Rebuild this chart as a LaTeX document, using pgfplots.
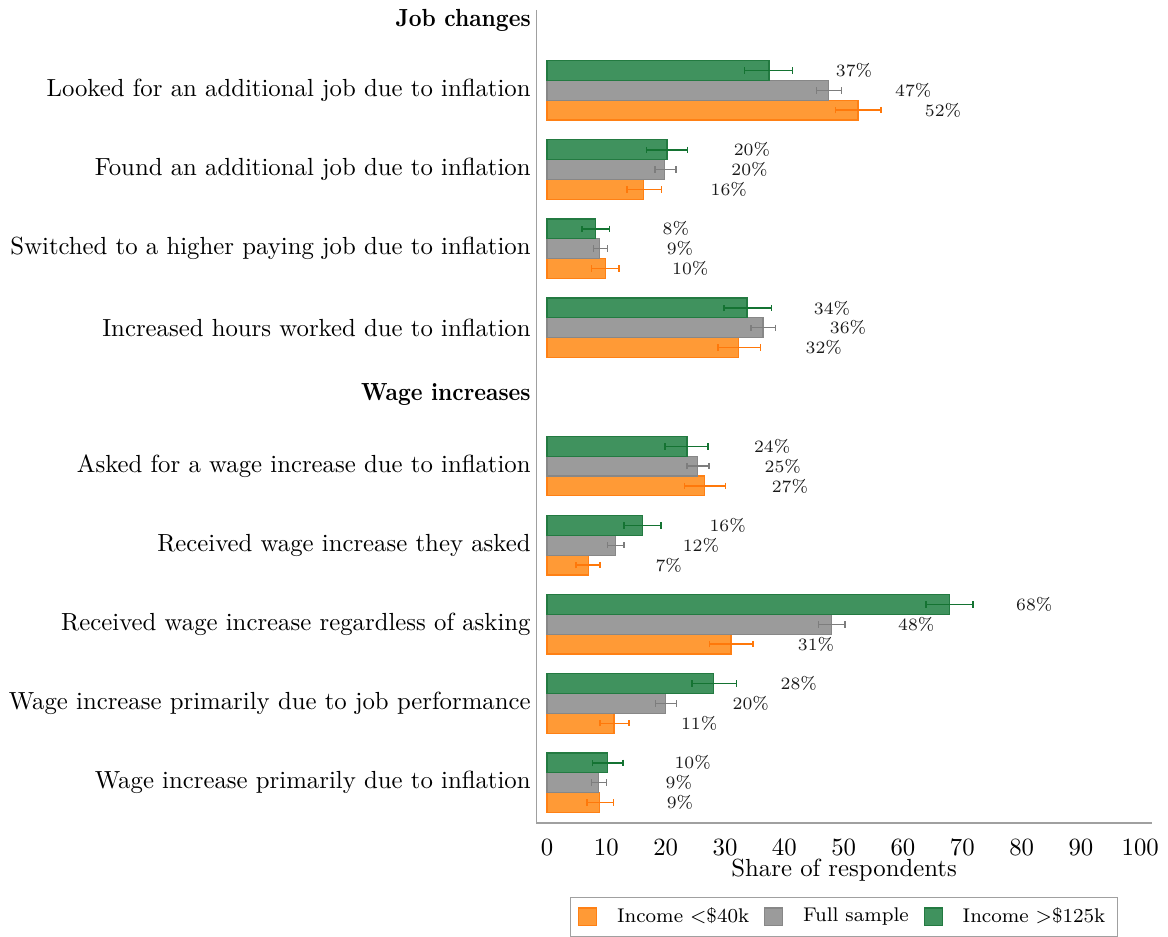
\documentclass[border=0pt]{standalone}
\usepackage{pgfplots}
\usepackage{pgfplotstable}
\pgfplotsset{compat=1.18}
\definecolor{ofill}{RGB}{255,154,54}
\definecolor{oedge}{RGB}{255,128,20}
\definecolor{oerr}{RGB}{255,120,10}
\definecolor{gfill}{RGB}{155,155,155}
\definecolor{gedge}{RGB}{135,135,135}
\definecolor{gerr}{RGB}{125,125,125}
\definecolor{nfill}{RGB}{64,146,94}
\definecolor{nedge}{RGB}{35,122,65}
\definecolor{nerr}{RGB}{20,115,50}
\definecolor{spine}{RGB}{160,160,160}

% y = row position, x = share, ep/em = upper/lower CI half-widths, lbl = printed label
\pgfplotstableread{
y     x     ep   em   lbl
1.25  52.4  3.9  3.8  52
2.25  16.3  3.0  2.8  16
3.25  9.8   2.3  2.3  10
4.25  32.3  3.7  3.5  32
6.0   26.6  3.5  3.4  27
7.0   7.0   1.9  2.1  7
8.0   31.0  3.7  3.6  31
9.0   11.3  2.5  2.4  11
10.0  8.9   2.3  2.2  9
}\lowinc
\pgfplotstableread{
y     x     ep   em   lbl
1     47.4  2.2  2.0  47
2     19.8  1.9  1.6  20
3     8.9   1.3  1.1  9
4     36.4  2.1  2.0  36
5.75  25.4  1.9  1.8  25
6.75  11.6  1.4  1.4  12
7.75  47.9  2.3  2.1  48
8.75  20.0  1.8  1.7  20
9.75  8.7   1.3  1.2  9
}\fullsample
\pgfplotstableread{
y     x     ep   em   lbl
0.75  37.4  4.0  4.1  37
1.75  20.2  3.5  3.4  20
2.75  8.2   2.3  2.3  8
3.75  33.7  4.1  3.9  34
5.5   23.6  3.5  3.7  24
6.5   16.1  3.1  3.1  16
7.5   67.8  4.0  3.9  68
8.5   28.1  3.8  3.7  28
9.5   10.2  2.6  2.5  10
}\highinc

\newcommand{\hdr}[1]{\scalebox{0.9}[1]{\textbf{#1}}}

\begin{document}
\begin{tikzpicture}
\path (-216.5pt,-45.2pt) rectangle (255.2pt,332.4pt);
\begin{axis}[
  at={(0,0)}, anchor=south west,
  scale only axis, width=248.8pt, height=328.4pt,
  xbar, bar shift=0pt, bar width=0.25,
  xmin=-1.85, xmax=102, ymin=-0.018, ymax=10.262, y dir=reverse,
  axis line style={draw=none},
  major tick length=0pt,
  xtick={0,10,...,100},
  xticklabel style={yshift=-3pt},
  ytick={0.12,1,2,3,4,4.85,5.75,6.75,7.75,8.75,9.75},
  yticklabels={\hdr{Job changes},
    Looked for an additional job due to inflation,
    Found an additional job due to inflation,
    Switched to a higher paying job due to inflation,
    Increased hours worked due to inflation,
    \hdr{Wage increases},
    Asked for a wage increase due to inflation,
    Received wage increase they asked,
    Received wage increase regardless of asking,
    Wage increase primarily due to job performance,
    Wage increase primarily due to inflation},
  yticklabel style={inner sep=0pt, xshift=-2pt},
  xlabel={Share of respondents},
  xlabel style={yshift=5.3pt},
  legend columns=3,
  legend style={at={(0.5,0)}, anchor=north, yshift=-29.9pt, draw=spine,
    font=\fontsize{8}{9.6}\selectfont,
    /tikz/every odd column/.append style={column sep=6pt},
    /tikz/every even column/.append style={column sep=4pt}},
  legend image code/.code={\draw[#1] (0pt,-3.6pt) rectangle (7.3pt,3.6pt);},
  point meta=explicit,
  nodes near coords={\pgfmathprintnumber[fixed,precision=0]{\pgfplotspointmeta}\%},
  nodes near coords style={anchor=west, inner sep=0pt, xshift=26.8pt,
    font=\fontsize{7.1}{8}\selectfont, text=black!90},
]
\addplot[xbar, fill=ofill, draw=oedge, line width=0.5pt,
  error bars/.cd, x dir=both, x explicit, error mark=|,
  error bar style={color=oerr, line width=0.6pt},
  error mark options={color=oerr, mark size=1.3pt, line width=0.6pt}]
  table[x=x, y=y, x error plus=ep, x error minus=em, meta=lbl] {\lowinc};
\addlegendentry{Income $<$\$40k}
\addplot[xbar, fill=gfill, draw=gedge, line width=0.5pt,
  error bars/.cd, x dir=both, x explicit, error mark=|,
  error bar style={color=gerr, line width=0.6pt},
  error mark options={color=gerr, mark size=1.3pt, line width=0.6pt}]
  table[x=x, y=y, x error plus=ep, x error minus=em, meta=lbl] {\fullsample};
\addlegendentry{Full sample}
\addplot[xbar, fill=nfill, draw=nedge, line width=0.5pt,
  error bars/.cd, x dir=both, x explicit, error mark=|,
  error bar style={color=nerr, line width=0.6pt},
  error mark options={color=nerr, mark size=1.3pt, line width=0.6pt}]
  table[x=x, y=y, x error plus=ep, x error minus=em, meta=lbl] {\highinc};
\addlegendentry{Income $>$\$125k}
\draw[spine, line width=0.6pt] (axis description cs:0,1) -- (axis description cs:0,0) -- (axis description cs:1,0);
\end{axis}
\end{tikzpicture}
\end{document}
